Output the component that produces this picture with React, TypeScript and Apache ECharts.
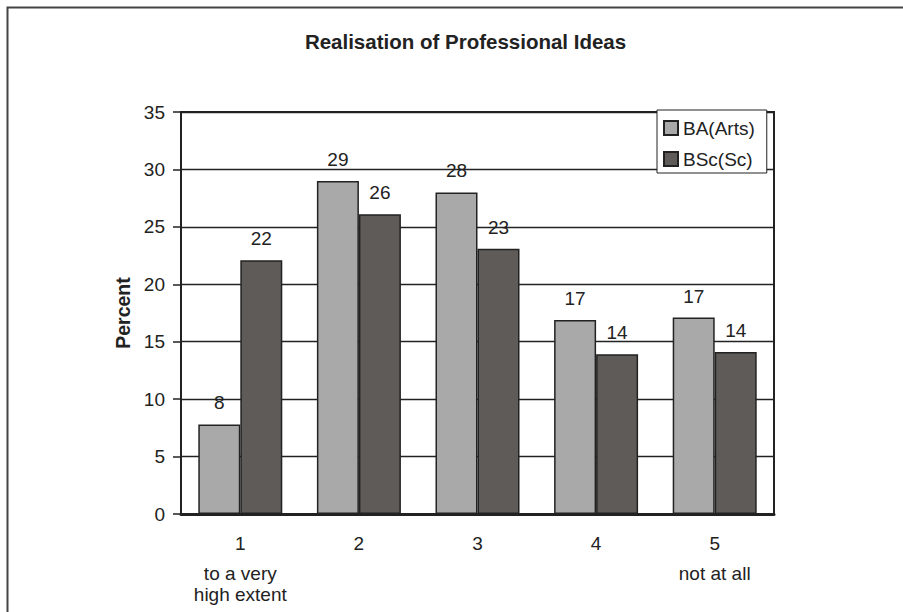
import React, { useEffect, useRef } from "react";
import * as echarts from "echarts";

const categories = ["1", "2", "3", "4", "5"];
const categoryNotes = ["to a very\nhigh extent", "", "", "", "not at all"];
const seriesNames = ["BA(Arts)", "BSc(Sc)"];
const baArts = [7.8, 29.0, 28.0, 16.9, 17.1];
const bscSc = [22.1, 26.1, 23.1, 13.9, 14.1];
const yMin = 0;
const yMax = 35;
const yInterval = 5;
const titleText = "Realisation of Professional Ideas";
const yAxisName = "Percent";

const FONT = "'Liberation Sans', Arial, Helvetica, sans-serif";
const TEXT = "#222";
const EDGE = "#222";
const LIGHT = "#a9a9a9";
const DARK = "#5f5b59";

export default function App() {
  const ref = useRef<HTMLDivElement>(null);
  useEffect(() => {
    if (!ref.current) return;
    const chart = echarts.init(ref.current, null, { renderer: "svg" });
    const labelCfg = {
      show: true,
      position: "top",
      distance: 12,
      color: TEXT,
      fontSize: 19,
      fontFamily: FONT,
      formatter: (p: any) => String(Math.round(p.value)),
    };
    chart.setOption({
      animation: false,
      backgroundColor: "#fff",
      textStyle: { fontFamily: FONT, color: TEXT },
      graphic: [
        {
          type: "polyline",
          shape: { points: [[7.5, 612], [7.5, 7.5], [903, 7.5]] },
          style: { fill: "none", stroke: "#444", lineWidth: 2 },
          z: -10,
          silent: true,
        },
        {
          type: "text",
          x: 465.5,
          y: 41,
          style: {
            text: titleText,
            fontSize: 20.5,
            fontWeight: "bold",
            fontFamily: FONT,
            fill: TEXT,
            align: "center",
            verticalAlign: "middle",
          },
        },
      ],
      grid: {
        left: 181,
        right: 129,
        top: 112,
        bottom: 98,
        show: true,
        borderColor: EDGE,
        borderWidth: 2,
        backgroundColor: "transparent",
      },
      legend: {
        show: true,
        orient: "vertical",
        left: 657,
        top: 110,
        padding: [8, 12, 4, 6],
        itemGap: 11,
        itemWidth: 14,
        itemHeight: 14,
        icon: "rect",
        backgroundColor: "#fff",
        borderColor: EDGE,
        borderWidth: 1,
        textStyle: { fontSize: 19, fontFamily: FONT, color: TEXT, lineHeight: 20 },
        data: seriesNames,
        z: 10,
      },
      xAxis: {
        type: "category",
        data: categories,
        axisLine: { show: true, lineStyle: { color: EDGE, width: 3 } },
        axisTick: { show: false },
        splitLine: { show: false },
        axisLabel: {
          margin: 11,
          color: TEXT,
          fontFamily: FONT,
          formatter: (value: string, index: number) => {
            const note = categoryNotes[index];
            let s = `{n|${value}}`;
            if (note) s += note.split("\n").map((l) => `\n{t|${l}}`).join("");
            return s;
          },
          rich: {
            n: { fontSize: 19, lineHeight: 37.6, fontFamily: FONT, color: TEXT },
            t: { fontSize: 19, lineHeight: 21, fontFamily: FONT, color: TEXT },
          },
        },
      },
      yAxis: {
        type: "value",
        min: yMin,
        max: yMax,
        interval: yInterval,
        name: yAxisName,
        nameLocation: "middle",
        nameGap: 47,
        nameTextStyle: { fontSize: 19.5, fontWeight: "bold", fontFamily: FONT, color: TEXT },
        axisLine: { show: true, lineStyle: { color: EDGE, width: 1.7 } },
        axisTick: { show: true, length: 8, lineStyle: { color: EDGE, width: 1.5 } },
        axisLabel: { margin: 16, fontSize: 19, fontFamily: FONT, color: TEXT },
        splitLine: { show: true, lineStyle: { color: EDGE, width: 1.4 } },
      },
      series: [
        {
          name: seriesNames[0],
          type: "bar",
          data: baArts,
          barWidth: 42,
          barGap: "0%",
          itemStyle: { color: LIGHT, borderColor: EDGE, borderWidth: 1.5 },
          label: labelCfg,
        },
        {
          name: seriesNames[1],
          type: "bar",
          data: bscSc,
          barWidth: 42,
          barGap: "0%",
          itemStyle: { color: DARK, borderColor: EDGE, borderWidth: 1.5 },
          label: labelCfg,
        },
      ],
    });
    return () => chart.dispose();
  }, []);
  return (
    <div
      ref={ref}
      style={{ position: "absolute", left: 0, top: 0, width: 903, height: 612 }}
    />
  );
}
